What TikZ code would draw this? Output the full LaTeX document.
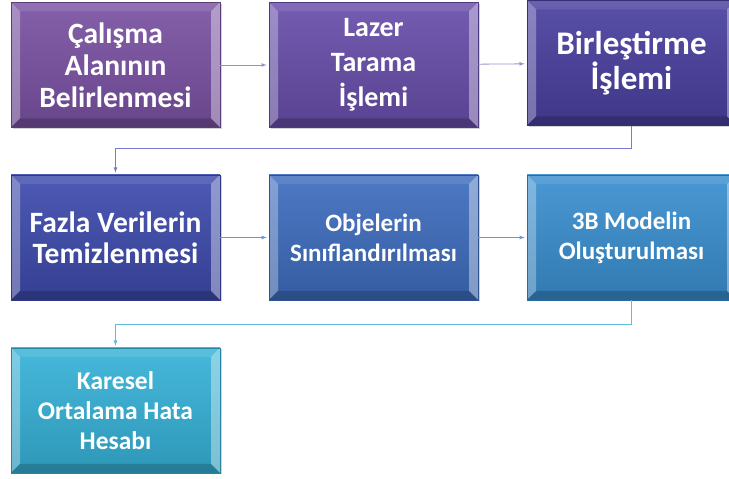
\documentclass[tikz,border=0pt]{standalone}
\usepackage{fontspec}
\setmainfont{Carlito}
\usetikzlibrary{shadows}
\definecolor{boxA}{HTML}{7A52A3}
\definecolor{boxB}{HTML}{684EAA}
\definecolor{boxC}{HTML}{4A40A0}
\definecolor{boxD}{HTML}{3E4BAD}
\definecolor{boxE}{HTML}{3E6DBE}
\definecolor{boxF}{HTML}{3A8FD0}
\definecolor{boxG}{HTML}{36B2D8}
\definecolor{arrA}{HTML}{9C8ECC}
\definecolor{arrB}{HTML}{7A7CCF}
\definecolor{arrC}{HTML}{6E93CF}
\definecolor{arrD}{HTML}{5FBEDA}
\tikzset{
  stepbox/.style={draw=#1!75!black, line width=0.6pt,
    top color=#1!92!white, bottom color=#1!85!black,
    minimum width=209pt, minimum height=125pt, inner sep=0pt,
    text=white, align=center,
    drop shadow={shadow xshift=1.5pt, shadow yshift=-1.5pt, opacity=0.35},
    path picture={
      \fill[white,opacity=.30] (path picture bounding box.north west) -- (path picture bounding box.south west)
        -- ([shift={(9pt,9pt)}]path picture bounding box.south west) -- ([shift={(9pt,-9pt)}]path picture bounding box.north west) -- cycle;
      \fill[white,opacity=.38] (path picture bounding box.north east) -- (path picture bounding box.south east)
        -- ([shift={(-9pt,9pt)}]path picture bounding box.south east) -- ([shift={(-9pt,-9pt)}]path picture bounding box.north east) -- cycle;
      \fill[white,opacity=.10] (path picture bounding box.north west) -- (path picture bounding box.north east)
        -- ([shift={(-9pt,-9pt)}]path picture bounding box.north east) -- ([shift={(9pt,-9pt)}]path picture bounding box.north west) -- cycle;
      \fill[black,opacity=.18] (path picture bounding box.south west) -- (path picture bounding box.south east)
        -- ([shift={(-9pt,9pt)}]path picture bounding box.south east) -- ([shift={(9pt,9pt)}]path picture bounding box.south west) -- cycle;
    }},
  flowline/.style={#1, line width=0.8pt, ->, shorten >=2pt}
}
\begin{document}
\begin{tikzpicture}[x=1pt,y=1pt,>=latex]
\useasboundingbox (0,0) rectangle (729,479);
\clip (0,0) rectangle (729,479);
%% first row
\node (calisma) at (115.5,414) [stepbox=boxA, font=\fontsize{29.5}{32}\selectfont\bfseries] {Çalışma\\Alanının\\Belirlenmesi};
\node (lazer) at (373.5,414) [stepbox=boxB, font=\fontsize{28}{35}\selectfont\bfseries] {Lazer\\Tarama\\İşlemi};
\node (birlestirme) at (631.5,416) [stepbox=boxC, font=\fontsize{33}{35}\selectfont\bfseries] {Birleştirme\\İşlemi};
%% second row
\node (fazla) at (115.5,241.5) [stepbox=boxD, font=\fontsize{29.5}{31}\selectfont\bfseries] {Fazla Verilerin\\Temizlenmesi};
\node (objeler) at (373.5,241.5) [stepbox=boxE, font=\fontsize{25}{30}\selectfont\bfseries] {Objelerin\\Sınıflandırılması};
\node (model) at (631.5,241.5) [stepbox=boxF, font=\fontsize{25}{30}\selectfont\bfseries] {3B Modelin\\Oluşturulması};
%% third row
\node (karesel) at (115.5,68.5) [stepbox=boxG, font=\fontsize{25.5}{30}\selectfont\bfseries] {Karesel\\Ortalama Hata\\Hesabı};
%
\draw [flowline=arrA] (calisma) -- (lazer);
\draw [flowline=arrA] (lazer) -- (birlestirme);
\draw [flowline=arrB] (birlestirme.south) -- ++(0,-23) -| (fazla.north);
\draw [flowline=arrC] (fazla) -- (objeler);
\draw [flowline=arrC] (objeler) -- (model);
\draw [flowline=arrD] (model.south) -- ++(0,-24) -| (karesel.north);
%
\end{tikzpicture}
\end{document}
